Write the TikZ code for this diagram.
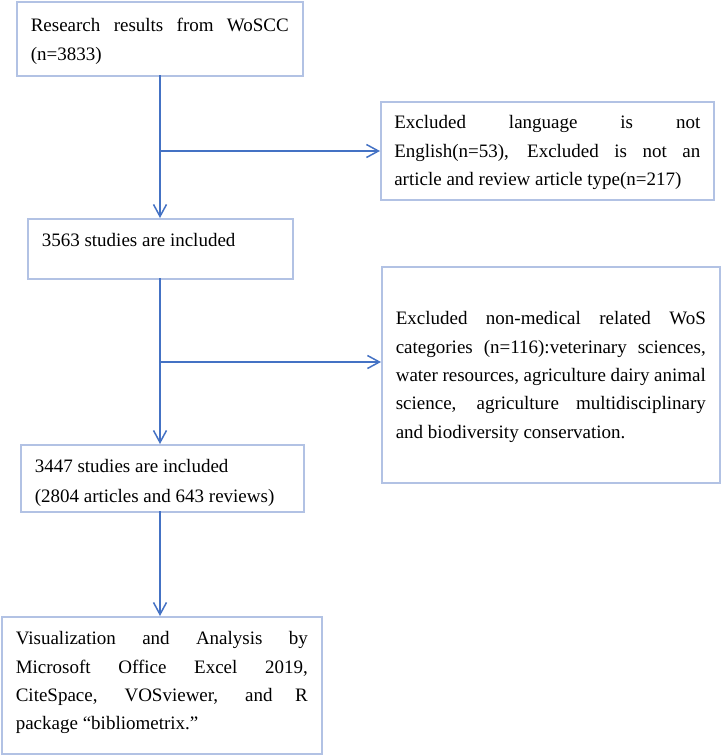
\documentclass[tikz,border=0pt]{standalone}
\usepackage{fontspec}
\setmainfont{Liberation Serif}
\usetikzlibrary{arrows.meta}
\definecolor{boxline}{RGB}{178,194,228}
\definecolor{arrowblue}{RGB}{68,114,196}
\tikzset{
  flowbox/.style={draw=boxline, line width=1.6pt, rectangle, anchor=north west,
    inner xsep=14pt, inner ysep=0pt, align=justify,
    font={\fontsize{19}{28.3}\selectfont\hyphenpenalty=10000\exhyphenpenalty=10000\tolerance=10000}},
  flowarrow/.style={draw=arrowblue, line width=1.5pt,
    -{Straight Barb[length=12pt,width=13pt,line width=1.5pt]}}
}
\begin{document}
\begin{tikzpicture}[x=1pt,y=1pt]
\useasboundingbox (0,0) rectangle (721,-755);
\node[flowbox, text width=258pt, text height=30pt, text depth=44pt] (b1) at (16,-1)
  {Research results from WoSCC\linebreak (n=3833)};
\node[flowbox, text width=306pt, text height=27pt, text depth=71pt, inner xsep=13.5pt] (b2) at (380,-101)
  {Excluded language is not\linebreak English(n=53), Excluded is not an\linebreak article and review article type(n=217)};
\node[flowbox, text width=237pt, text height=28pt, text depth=32pt] (b3) at (27,-218)
  {3563 studies are included};
\node[flowbox, text width=310pt, text height=58pt, text depth=158pt] (b4) at (381,-266)
  {Excluded non-medical related WoS\linebreak categories (n=116):veterinary sciences,\linebreak water resources, agriculture dairy animal\linebreak science, agriculture multidisciplinary\linebreak and biodiversity conservation.};
\node[flowbox, text width=255pt, text height=28pt, text depth=39pt] (b5) at (20,-444)
  {3447 studies are included\\[1.7pt](2804 articles and 643 reviews)};
\node[flowbox, text width=292pt, text height=28pt, text depth=109pt] (b6) at (1,-616)
  {Visualization and Analysis by\linebreak Microsoft Office Excel 2019,\linebreak CiteSpace, VOSviewer, and R\linebreak package “bibliometrix.”};
\coordinate (top1) at (160,-75);
\coordinate (j1) at (160,-151);
\coordinate (top2) at (160,-278);
\coordinate (j2) at (160,-362);
\coordinate (top3) at (160,-511);
\draw[flowarrow] (top1) -- (top1 |- b3.north);
\draw[flowarrow] (j1) -- (j1 -| b2.west);
\draw[flowarrow] (top2) -- (top2 |- b5.north);
\draw[flowarrow] (j2) -- (j2 -| b4.west);
\draw[flowarrow] (top3) -- (top3 |- b6.north);
\end{tikzpicture}
\end{document}
